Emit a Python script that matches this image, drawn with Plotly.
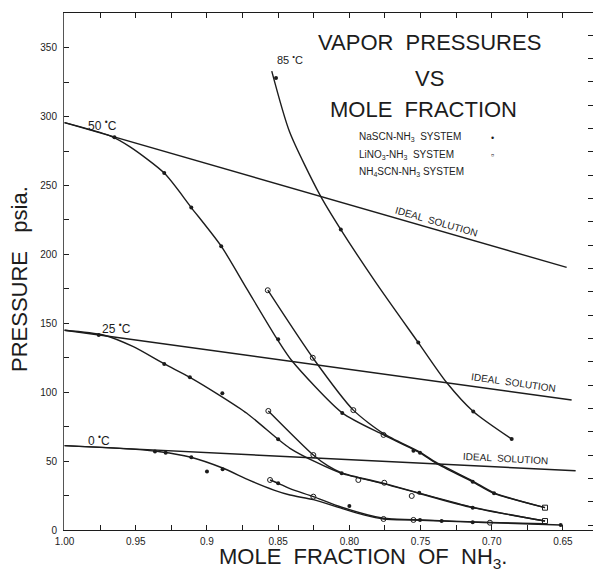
import plotly.graph_objects as go

# ---------------- data ----------------
# x = mole fraction of NH3, y = pressure (psia)
ideal50_x = [1.00, 0.6474]
ideal50_y = [295.6, 190.6]
ideal25_x = [1.00, 0.6439]
ideal25_y = [145.0, 94.3]
ideal0_x = [1.00, 0.6411]
ideal0_y = [61.2, 43.0]

# 85 C  NaSCN-NH3
c85_x = [0.8545, 0.842, 0.8206, 0.806, 0.781, 0.7516, 0.7317, 0.713, 0.686]
c85_y = [333, 289, 243, 218, 179, 136, 107, 86, 66]
c85_pts_x = [0.8515, 0.806, 0.7516, 0.713, 0.686]
c85_pts_y = [328, 218, 136, 86, 66]

# 50 C  NaSCN-NH3
na50_x = [1.00, 0.968, 0.954, 0.930, 0.911, 0.890, 0.872, 0.851, 0.8405, 0.805, 0.776, 0.7504, 0.739, 0.7134, 0.6984, 0.6626]
na50_y = [295.6, 286, 278, 259, 234, 206, 175, 139, 123, 85, 69, 56, 48.4, 35, 26.6, 16.2]
na50_pts_x = [0.965, 0.930, 0.911, 0.890, 0.850, 0.805, 0.755, 0.7504, 0.7134, 0.6984]
na50_pts_y = [285, 259, 234, 206, 138.4, 85, 57.5, 56, 35, 26.6]

# 50 C  LiNO3-NH3
li50_x = [0.8573, 0.8257, 0.7972, 0.776, 0.7504, 0.739, 0.7134, 0.6984, 0.6626]
li50_y = [174, 125, 87, 70, 56.5, 49, 35.5, 27, 16.2]
li50_pts_x = [0.8573, 0.8257, 0.7972, 0.776]
li50_pts_y = [174, 125, 87, 69]
li50_end_x = [0.6626]
li50_end_y = [16.2]

# 25 C  NaSCN-NH3
na25_x = [1.00, 0.9728, 0.9517, 0.930, 0.912, 0.890, 0.872, 0.850, 0.8417, 0.823, 0.8054, 0.7755, 0.7509, 0.7134, 0.6626]
na25_y = [145, 141.5, 133, 120.5, 110.8, 97, 84.7, 65.8, 59.3, 49, 41.1, 33.5, 26.5, 16.2, 6.5]
na25_pts_x = [0.976, 0.930, 0.912, 0.8892, 0.850, 0.8054, 0.7509, 0.7134]
na25_pts_y = [141.5, 120.5, 110.8, 99.2, 65.8, 41.1, 27.1, 16.2]

# 25 C  LiNO3-NH3
li25_x = [0.8569, 0.8253, 0.815, 0.8054, 0.7755, 0.7509, 0.7134, 0.6626]
li25_y = [86.4, 54.4, 46.5, 41.5, 33.8, 26.8, 16.5, 6.5]
li25_pts_x = [0.8569, 0.8253, 0.7937, 0.7755, 0.7562]
li25_pts_y = [86.4, 54.4, 36.3, 34.3, 24.7]
li25_end_x = [0.6626]
li25_end_y = [6.5]

# 0 C  NaSCN-NH3
na0_x = [1.00, 0.95, 0.933, 0.912, 0.889, 0.870, 0.853, 0.8417, 0.8253, 0.8054, 0.790, 0.776, 0.755, 0.735, 0.7134, 0.70, 0.6516]
na0_y = [61.2, 58.5, 56.8, 53, 45, 36, 29, 25.4, 22, 15.7, 11, 8, 7.3, 6.5, 5.7, 5.3, 3.6]
na0_pts_x = [0.9365, 0.929, 0.911, 0.900, 0.889, 0.850, 0.800, 0.7504, 0.7352, 0.7134, 0.6516]
na0_pts_y = [57, 56.1, 52.8, 42.5, 44, 33.9, 17.4, 7.3, 6.5, 5.7, 3.6]

# 0 C  LiNO3-NH3
li0_x = [0.8557, 0.850, 0.8417, 0.8253, 0.8054, 0.776, 0.755, 0.7013, 0.6626]
li0_y = [36.3, 33.9, 30, 24.2, 16.5, 8.5, 7.5, 5.5, 4.5]
li0_pts_x = [0.8557, 0.8253, 0.776, 0.755, 0.7013]
li0_pts_y = [36.3, 24.2, 8, 7.3, 5.3]

x_tick_vals = [1.00, 0.95, 0.90, 0.85, 0.80, 0.75, 0.70, 0.65]
x_tick_text = ["1.00", "0.95", "0.9", "0.85", "0.80", "0.75", "0.70", "0.65"]
y_tick_vals = [0, 50, 100, 150, 200, 250, 300, 350]
y_tick_text = ["0", "50", "100", "150", "200", "250", "300", "350"]

# ---------------- figure ----------------
W, H = 593, 572
ML, MR, MT, MB = 64, 0, 13, 42
INK = "#1c1c1c"
FONT = "Liberation Sans"


def P(px, py):
    return (px - ML) / (W - ML - MR), (H - MB - py) / (H - MT - MB)


fig = go.Figure()


def line(x, y, spline=True):
    fig.add_trace(go.Scatter(
        x=x, y=y, mode="lines",
        line=dict(color=INK, width=1.4, shape="spline" if spline else "linear", smoothing=0.7),
        hoverinfo="skip", showlegend=False))


def dots(x, y):
    fig.add_trace(go.Scatter(
        x=x, y=y, mode="markers",
        marker=dict(symbol="circle", size=4, color=INK),
        hoverinfo="skip", showlegend=False))


def rings(x, y, symbol="circle-open"):
    fig.add_trace(go.Scatter(
        x=x, y=y, mode="markers",
        marker=dict(symbol=symbol, size=5, color=INK, line=dict(width=1, color=INK)),
        hoverinfo="skip", showlegend=False))


for xs, ys in [(ideal50_x, ideal50_y), (ideal25_x, ideal25_y), (ideal0_x, ideal0_y)]:
    line(xs, ys, spline=False)

for xs, ys in [(c85_x, c85_y), (na50_x, na50_y), (li50_x, li50_y), (na25_x, na25_y),
               (li25_x, li25_y), (na0_x, na0_y), (li0_x, li0_y)]:
    line(xs, ys)

for xs, ys in [(c85_pts_x, c85_pts_y), (na50_pts_x, na50_pts_y), (na25_pts_x, na25_pts_y),
               (na0_pts_x, na0_pts_y)]:
    dots(xs, ys)

for xs, ys in [(li50_pts_x, li50_pts_y), (li25_pts_x, li25_pts_y), (li0_pts_x, li0_pts_y)]:
    rings(xs, ys)
for xs, ys in [(li50_end_x, li50_end_y), (li25_end_x, li25_end_y)]:
    rings(xs, ys, symbol="square-open")

# invisible trace so the right-hand tick scale is drawn
fig.add_trace(go.Scatter(x=[], y=[], yaxis="y2", showlegend=False))

ann = []


def text(px, py, s, size, angle=0, xanchor="center"):
    x, y = P(px, py)
    ann.append(dict(x=x, y=y, xref="paper", yref="paper", text=s, showarrow=False,
                    textangle=angle, xanchor=xanchor, yanchor="middle",
                    font=dict(family=FONT, size=size, color=INK)))


text(430, 42, "VAPOR  PRESSURES", 22)
text(430, 78, "VS", 22)
text(423, 109, "MOLE  FRACTION", 22)
text(357, 137, "NaSCN-NH<sub>3</sub>  SYSTEM", 10, xanchor="left")
text(357, 155, "LiNO<sub>3</sub>-NH<sub>3</sub>  SYSTEM", 10, xanchor="left")
text(357, 172, "NH<sub>4</sub>SCN-NH<sub>3</sub> SYSTEM", 10, xanchor="left")
text(492, 138, "•", 9)
text(492, 155, "▫", 9)

text(290, 59, "85 <sup>•</sup>C", 11)
text(102, 125, "50 <sup>•</sup>C", 12)
text(116, 328, "25 <sup>•</sup>C", 12)
text(99, 440, "0 <sup>•</sup>C", 12)

text(436, 221, "IDEAL  SOLUTION", 10, angle=16)
text(513, 382, "IDEAL  SOLUTION", 10, angle=8)
text(505, 458, "IDEAL  SOLUTION", 10, angle=3)

text(363, 558, "MOLE  FRACTION  OF  NH<sub>3</sub>.", 22)
text(20, 279, "PRESSURE\u00a0\u00a0\u00a0psia.", 22, angle=-90)

fig.update_layout(
    width=W, height=H,
    margin=dict(l=ML, r=MR, t=MT, b=MB),
    paper_bgcolor="white", plot_bgcolor="white",
    showlegend=False,
    annotations=ann,
    xaxis=dict(
        range=[1.0004, 0.6289], showgrid=False, zeroline=False,
        showline=True, linecolor=INK, linewidth=1.2, mirror="ticks",
        ticks="inside", ticklen=5, tickwidth=1, tickcolor=INK,
        tickmode="array", tickvals=x_tick_vals, ticktext=x_tick_text,
        tickfont=dict(family=FONT, size=10, color=INK),
        ticklabelstandoff=2,
        minor=dict(tickmode="linear", tick0=0, dtick=0.025, ticks="inside",
                   ticklen=5, tickcolor=INK, tickwidth=1),
    ),
    yaxis=dict(
        range=[0, 375.2], showgrid=False, zeroline=False,
        showline=True, linecolor="#555", linewidth=1,
        ticks="inside", ticklen=5, tickwidth=1, tickcolor=INK,
        tickmode="array", tickvals=y_tick_vals, ticktext=y_tick_text,
        tickfont=dict(family=FONT, size=10, color=INK),
        ticklabelstandoff=4,
        minor=dict(tickmode="linear", tick0=0, dtick=25, ticks="inside",
                   ticklen=5, tickcolor=INK, tickwidth=1),
    ),
    yaxis2=dict(
        overlaying="y", side="right", range=[0, 375.2],
        showgrid=False, zeroline=False, showline=False,
        ticks="inside", ticklen=5, tickwidth=1, tickcolor=INK,
        tickmode="linear", tick0=20.5, dtick=16.93, showticklabels=False,
    ),
)

fig.write_html("out.html")
